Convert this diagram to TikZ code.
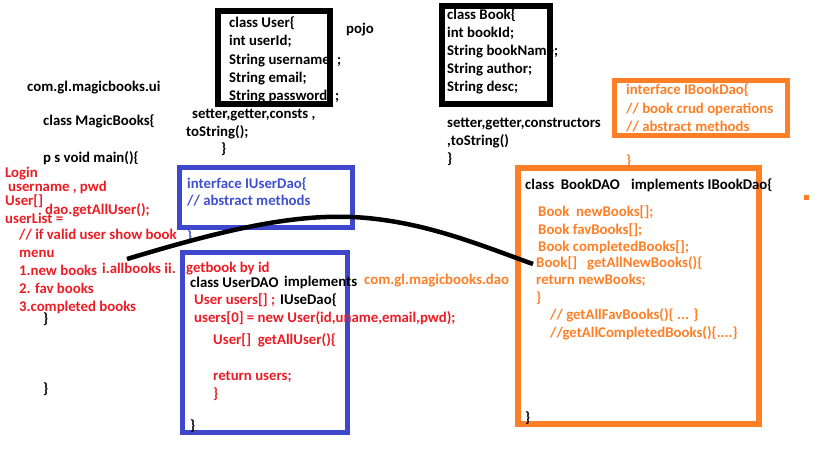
\documentclass[tikz,border=0pt]{standalone}
\usepackage{fontspec}
\setmainfont{Carlito}
\definecolor{pblue}{HTML}{3F48CC}
\definecolor{tblue}{HTML}{4050D0}
\definecolor{porange}{HTML}{FF7F27}
\definecolor{pred}{HTML}{ED1C24}
\tikzset{
  txt/.style={anchor=west, inner sep=0pt, text height=10.5pt, text depth=0.5pt,
    font=\fontsize{14.8}{17}\selectfont\bfseries},
  blk/.style={txt, text=black},
  red/.style={txt, text=pred},
  blu/.style={txt, text=tblue},
  org/.style={txt, text=porange},
  boxb/.style={draw=black, line width=6pt, rectangle, inner sep=0pt},
  boxu/.style={draw=pblue, line width=5pt, rectangle, inner sep=0pt},
  boxo/.style={draw=porange, line width=5.5pt, rectangle, inner sep=0pt},
}
\begin{document}
\begin{tikzpicture}[x=1pt,y=-1pt]
\useasboundingbox[fill=white] (0,0) rectangle (819,460);

% ---- left column (UI)
\node[blk] (pkgui) at (27,87) {com.gl.magicbooks.ui};
\node[blk] (magic) at (43,120) {class MagicBooks\{};
\node[blk] (mainm) at (43,157) {p s void main()\{};
\node[red] (login) at (5,172) {Login};
\node[red] (unpwd) at (8,186) {username , pwd};
\node[red] (userarr) at (5,200) {User[]};
\node[red] (daocall) at (45,209) {dao.getAllUser();};
\node[red] (ulist) at (5,218) {userList =};
\node[red] (ifvalid) at (19,234) {// if valid user show book};
\node[red] (menu) at (19,252) {menu};
\node[red] (m1) at (19,270) {1.new books};
\node[red] (allb) at (102,268) {i.allbooks ii.};
\node[red] (getb) at (186,267) {getbook by id};
\node[red] (m2) at (19,288) {2. fav books};
\node[red] (m3) at (19,306) {3.completed books};
\node[blk] (cb1) at (43,318) {\}};
\node[blk] (cb2) at (43,388) {\}};

% ---- User pojo
\node[blk] (u1) at (229,23) {class User\{};
\node[blk] (u2) at (229,41) {int userId;};
\node[blk] (u3) at (229,59) {String username};
\node[blk] (u3s) at (337,59) {;};
\node[blk] (u4) at (229,77) {String email;};
\node[blk] (u5) at (229,95) {String password};
\node[blk] (u5s) at (335,95) {;};
\node[boxb, minimum width=112pt, minimum height=93pt] (userbox) at (274,57.5) {};
\node[blk] (pojo) at (346,29) {pojo};
\node[blk] (u6) at (192,113) {setter,getter,consts ,};
\node[blk] (u7) at (186,131) {toString();};
\node[blk] (u8) at (221,148) {\}};

% ---- Book pojo
\node[blk] (b1) at (447,15) {class Book\{};
\node[blk] (b2) at (447,33) {int bookId;};
\node[blk] (b3) at (447,51) {String bookName;};
\node[blk] (b4) at (447,69) {String author;};
\node[blk] (b5) at (447,87) {String desc;};
\node[boxb, minimum width=108pt, minimum height=98pt] (bookbox) at (496,55) {};
\node[blk] (b6) at (447,122) {setter,getter,constructors};
\node[blk] (b7) at (447,140) {,toString()};
\node[blk] (b8) at (447,158) {\}};

% ---- IUserDao
\node[boxu, minimum width=173pt, minimum height=60pt] (iuserbox) at (266,197.5) {};
\node[blu] (iu1) at (187,183) {interface IUserDao\{};
\node[blu] (iu2) at (187,200) {// abstract methods};
\node[blu] (iu3) at (187,236) {\}};

% ---- UserDAO
\node[boxu, minimum width=165pt, minimum height=180pt] (userdaobox) at (265,342.5) {};
\node[blk] (ud1) at (190,282) {class UserDAO};
\node[blk] (ud2) at (284,281) {implements};
\node[org] (pkgdao) at (364,279) {com.gl.magicbooks.dao};
\node[red] (ud3) at (194,299) {User users[] ;};
\node[blk] (ud4) at (280,299) {IUseDao\{};
\node[red] (ud5) at (194,317) {users[0] = new User(id,uname,email,pwd);};
\node[red] (ud6) at (213,339) {User[]\ \ getAllUser()\{};
\node[red] (ud7) at (213,375) {return users;};
\node[red] (ud8) at (213,393) {\}};
\node[blk] (ud9) at (190,425) {\}};

% ---- IBookDao
\node[boxo, minimum width=173pt, minimum height=55pt] (ibookbox) at (701,108) {};
\node[org] (ib1) at (626,90) {interface IBookDao\{};
\node[org] (ib2) at (626,108) {// book crud operations};
\node[org] (ib3) at (626,126) {// abstract methods};
\node[org] (ib4) at (626,160) {\}};

% ---- BookDAO
\node[boxo, minimum width=241pt, minimum height=256pt] (bookdaobox) at (638.5,296) {};
\node[blk] (bd1) at (525,184) {class\ \ BookDAO};
\node[blk] (bd2) at (631,184) {implements IBookDao\{};
\node[org] (bd3) at (538,211) {Book\ \ newBooks[];};
\node[org] (bd4) at (538,229) {Book favBooks[];};
\node[org] (bd5) at (538,246) {Book completedBooks[];};
\node[org] (bd6) at (536,262) {Book[]\ \ \ getAllNewBooks()\{};
\node[org] (bd7) at (536,279) {return newBooks;};
\node[org] (bd8) at (536,297) {\}};
\node[org] (bd9) at (550,314) {// getAllFavBooks()\{ ... \}};
\node[org] (bd10) at (550,332) {//getAllCompletedBooks()\{....\}};
\node[blk] (bd11) at (525,417) {\}};
\node[fill=porange, minimum size=5pt, inner sep=0pt] (dot) at (806,197) {};

% ---- connector curve
\coordinate (cstart) at (127,259);
\coordinate (cend) at (533,264);
\draw[line width=4.5pt, black] (cstart) .. controls (230,228) and (300,212) .. (367,218)
  .. controls (430,224) and (480,245) .. (cend);
\end{tikzpicture}
\end{document}
